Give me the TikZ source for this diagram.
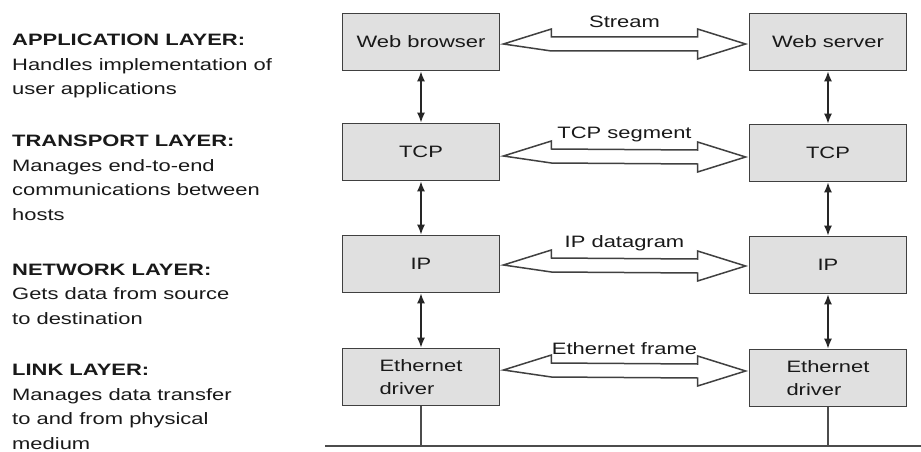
\documentclass[tikz,border=0pt]{standalone}
\usepackage{fontspec}
\setmainfont[FakeStretch=1.33]{Liberation Sans}
\usetikzlibrary{calc,arrows.meta}

\begin{document}
\begin{tikzpicture}[x=1pt,y=-1pt,
  lay/.style={anchor=west,align=left,inner sep=0pt,text=black!90,font=\fontsize{16.5}{24.5}\selectfont},
  box/.style={draw=black!75,fill=black!12,line width=1.8pt,minimum width=157,minimum height=57,
    align=center,text=black!90,font=\fontsize{16.5}{23}\selectfont},
  fat/.style={draw=black!75,fill=white,line width=1.5pt,line join=miter},
  lbl/.style={inner sep=0pt,text=black!90,font=\fontsize{16.5}{20}\selectfont},
  updown/.style={{Latex[length=10pt,width=8pt]}-{Latex[length=10pt,width=8pt]},line width=1.4pt,black!85},
  wire/.style={line width=1.4pt,black!70}]
\useasboundingbox (0,0) rectangle (921,452);
\def\xl{421}
\def\xr{828}
\node[lay] (app) at (12,66) {\textbf{APPLICATION LAYER:}\\Handles implementation of\\user applications};
\node[lay] (trans) at (12,178) {\textbf{TRANSPORT LAYER:}\\Manages end-to-end\\communications between\\hosts};
\node[lay] (net) at (12,294) {\textbf{NETWORK LAYER:}\\Gets data from source\\to destination};
\node[lay] (link) at (12,407) {\textbf{LINK LAYER:}\\Manages data transfer\\to and from physical\\medium};
\node[box] (wb) at (\xl,42) {Web browser};
\node[box] (ws) at (\xr,42) {Web server};
\node[box] (tcpl) at (\xl,152) {TCP};
\node[box] (tcpr) at (\xr,153) {TCP};
\node[box] (ipl) at (\xl,264) {IP};
\node[box] (ipr) at (\xr,265) {IP};
\node[box,align=left] (ethl) at (\xl,377) {Ethernet\\driver};
\node[box,align=left] (ethr) at (\xr,378) {Ethernet\\driver};
\foreach \l/\r/\dy/\t in {wb/ws/2/Stream,tcpl/tcpr/4/TCP segment,ipl/ipr/1/IP datagram,ethl/ethr/-7/Ethernet frame}{
  \draw[fat] ($(\l.east)+(3,\dy)$) coordinate (\l-a) -- ++(48,-15) -- ++(0,8)
    -- ($(\r.west)+(-51,\dy-7)$) -- ++(0,-8) -- ($(\r.west)+(-3,\dy)$) coordinate (\r-a)
    -- ++(-48,15) -- ++(0,-8) -- ($(\l-a)+(48,7)$) -- cycle;
  \node[lbl] (\l-lbl) at ($(\l-a)!0.5!(\r-a)+(0,-22)$) {\t};
}
\foreach \a/\b in {wb/tcpl,tcpl/ipl,ipl/ethl,ws/tcpr,tcpr/ipr,ipr/ethr}
  \draw[updown] (\a) -- (\b);
\coordinate (bl) at (325,446);
\coordinate (br) at (921,446);
\draw[wire] (bl) -- (br);
\draw[wire] (ethl) -- (ethl |- bl);
\draw[wire] (ethr) -- (ethr |- bl);
\end{tikzpicture}
\end{document}
